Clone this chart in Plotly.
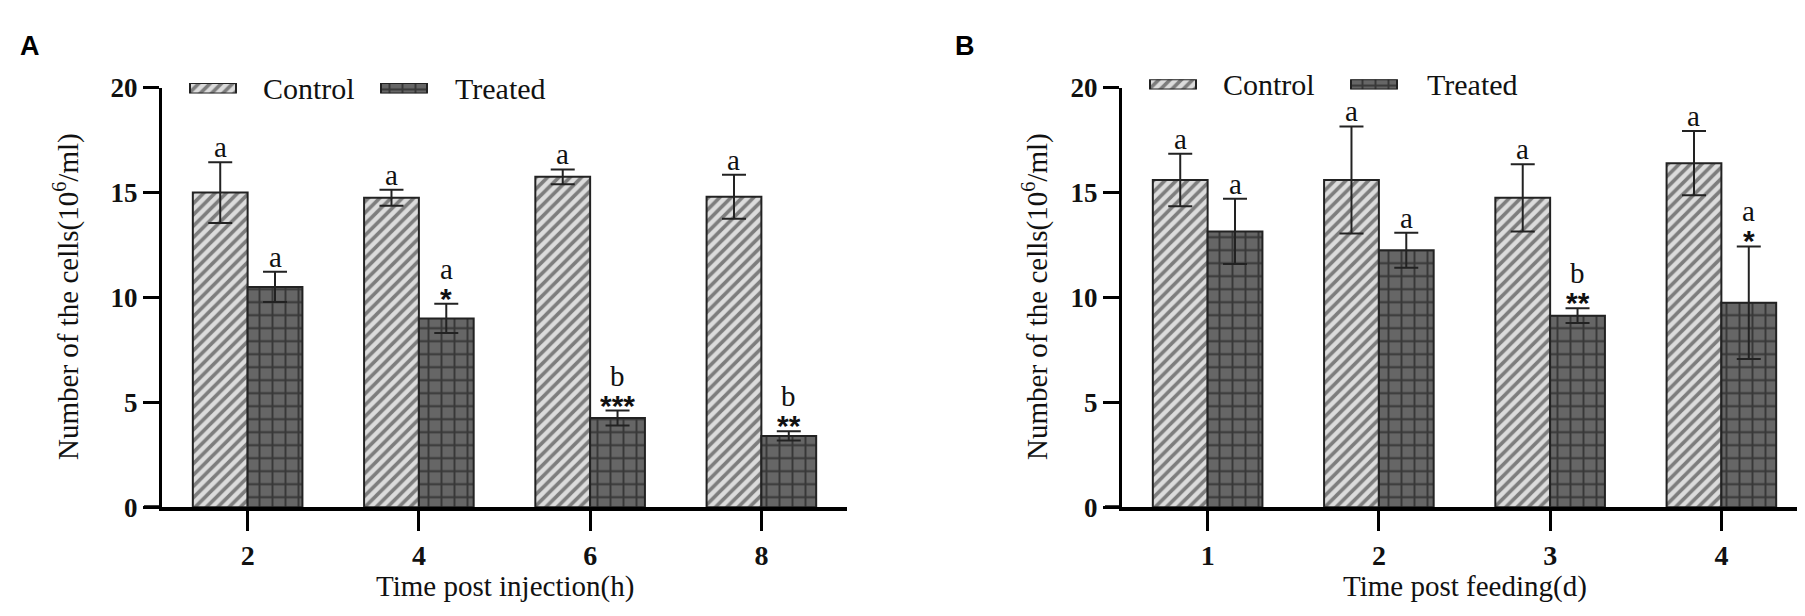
import plotly.graph_objects as go

# panel A: time post injection (h)
cats_a = ['2', '4', '6', '8']
ctrl_a = [15.0, 14.75, 15.75, 14.8]
ctrl_a_err = [1.45, 0.38, 0.35, 1.05]
trt_a = [10.5, 9.0, 4.25, 3.4]
trt_a_err = [0.72, 0.7, 0.36, 0.22]
ctrl_a_letters = ['a', 'a', 'a', 'a']
trt_a_letters = ['a', 'a', 'b', 'b']
trt_a_stars = ['', '*', '***', '**']

# panel B: time post feeding (d)
cats_b = ['1', '2', '3', '4']
ctrl_b = [15.6, 15.6, 14.75, 16.4]
ctrl_b_err = [1.25, 2.55, 1.6, 1.53]
trt_b = [13.15, 12.25, 9.13, 9.75]
trt_b_err = [1.55, 0.83, 0.35, 2.68]
ctrl_b_letters = ['a', 'a', 'a', 'a']
trt_b_letters = ['a', 'a', 'b', 'a']
trt_b_stars = ['', '', '**', '*']

W, H = 1805, 616
SERIF = 'Liberation Serif'
SANS = 'Liberation Sans'

ctrl_pattern = dict(shape='/', fgcolor='#1e1e1e', bgcolor='#dcdcdc', size=8, solidity=0.45)
trt_pattern = dict(shape='+', fgcolor='#0a0a0a', bgcolor='#666666', size=13, solidity=0.28)
bar_line = dict(color='#222222', width=2)
err_style = dict(type='data', color='#222222', thickness=2, width=12)


def px_x(p):
    return p / W


def px_y(p):
    return 1 - p / H


def add_panel(fig, n, cats, ctrl, ctrl_err, trt, trt_err, ctrl_letters, trt_letters, trt_stars):
    xa, ya = 'x%d' % n, 'y%d' % n
    pos = list(range(len(cats)))
    fig.add_trace(go.Bar(x=pos, y=ctrl, name='Control', xaxis=xa, yaxis=ya,
                         marker=dict(color='#dcdcdc', pattern=ctrl_pattern, line=bar_line),
                         error_y=dict(array=ctrl_err, **err_style), showlegend=False))
    fig.add_trace(go.Bar(x=pos, y=trt, name='Treated', xaxis=xa, yaxis=ya,
                         marker=dict(color='#666666', pattern=trt_pattern, line=bar_line),
                         error_y=dict(array=trt_err, **err_style), showlegend=False))
    off = 0.16
    letter_font = dict(family=SERIF, size=29, color='#111')
    for i in pos:
        fig.add_annotation(x=i - off, y=ctrl[i] + ctrl_err[i], xref=xa, yref=ya, text=ctrl_letters[i],
                           showarrow=False, yanchor='middle', yshift=15, height=30, font=letter_font)
        top = trt[i] + trt_err[i]
        if trt_stars[i]:
            fig.add_annotation(x=i + off, y=top, xref=xa, yref=ya, text='<b>' + trt_stars[i] + '</b>',
                               showarrow=False, yanchor='middle', yshift=6, height=24,
                               font=dict(family=SANS, size=30, color='#111'))
            fig.add_annotation(x=i + off, y=top, xref=xa, yref=ya, text=trt_letters[i],
                               showarrow=False, yanchor='middle', yshift=35, height=30, font=letter_font)
        else:
            fig.add_annotation(x=i + off, y=top, xref=xa, yref=ya, text=trt_letters[i],
                               showarrow=False, yanchor='middle', yshift=15, height=30, font=letter_font)


def add_legend(fig, n, x0, y_top, ctrl_patch, trt_patch, ctrl_text_x, trt_text_x):
    # small helper subplot to draw the patterned legend swatches
    xa, ya = 'x%d' % n, 'y%d' % n
    span = 260
    fig.add_trace(go.Bar(x=[ctrl_patch[0] - x0 + 23], y=[1], width=[46], xaxis=xa, yaxis=ya,
                         marker=dict(color='#dcdcdc', pattern=ctrl_pattern, line=bar_line),
                         showlegend=False, hoverinfo='skip'))
    fig.add_trace(go.Bar(x=[trt_patch[0] - x0 + 23], y=[1], width=[46], xaxis=xa, yaxis=ya,
                         marker=dict(color='#666666', pattern=trt_pattern, line=bar_line),
                         showlegend=False, hoverinfo='skip'))
    fig.layout['xaxis%d' % n] = dict(domain=[px_x(x0), px_x(x0 + span)], range=[0, span], visible=False,
                                     fixedrange=True, anchor=ya)
    fig.layout['yaxis%d' % n] = dict(domain=[px_y(y_top + 11), px_y(y_top)], range=[0, 1], visible=False,
                                     fixedrange=True, anchor=xa)
    yc = px_y(y_top + 5.5)
    for tx, label in [(ctrl_text_x, 'Control'), (trt_text_x, 'Treated')]:
        fig.add_annotation(x=px_x(tx), y=yc, xref='paper', yref='paper', text=label, showarrow=False,
                           xanchor='left', yanchor='middle', font=dict(family=SERIF, size=30, color='#111'))


fig = go.Figure()
add_panel(fig, 1, cats_a, ctrl_a, ctrl_a_err, trt_a, trt_a_err, ctrl_a_letters, trt_a_letters, trt_a_stars)
add_panel(fig, 2, cats_b, ctrl_b, ctrl_b_err, trt_b, trt_b_err, ctrl_b_letters, trt_b_letters, trt_b_stars)

plot_top, plot_bottom = 68, 509
panels = [(1, 154, 839, cats_a, 'Time post injection(h)', 136, 59, 22, 'A'),
          (2, 1114, 1799, cats_b, 'Time post feeding(d)', 1097, 1028, 957, 'B')]

for n, left, right, cats, xtitle, line_start, ytitle_x, label_x, panel_label in panels:
    fig.layout['xaxis%d' % n] = dict(
        domain=[px_x(left), px_x(right)], anchor='y%d' % n, range=[-0.5, len(cats) - 0.5],
        tickvals=list(range(len(cats))), ticktext=cats, showline=True, linewidth=4, linecolor='black',
        ticks='outside', ticklen=20, tickwidth=3, tickcolor='black', showgrid=False, zeroline=False,
        tickfont=dict(family=SERIF, size=28, color='#111', weight='bold'), fixedrange=True)
    fig.layout['yaxis%d' % n] = dict(
        domain=[px_y(plot_bottom), px_y(plot_top)], anchor='x%d' % n, range=[0, 20],
        tickvals=[0, 5, 10, 15, 20], showline=True, linewidth=3, linecolor='black',
        ticks='outside', ticklen=16, tickwidth=3, tickcolor='black', showgrid=False, zeroline=False,
        tickfont=dict(family=SERIF, size=27, color='#111', weight='bold'), fixedrange=True)
    # x axis line sticks out a bit left of the y axis
    fig.add_shape(type='line', xref='paper', yref='y%d' % n, x0=px_x(line_start), x1=px_x(left),
                  y0=0, y1=0, line=dict(color='black', width=4))
    fig.add_annotation(x=px_x((left + right) / 2), y=px_y(592), xref='paper', yref='paper', text=xtitle,
                       showarrow=False, xanchor='center', yanchor='middle',
                       font=dict(family=SERIF, size=29, color='#111'))
    fig.add_annotation(x=px_x(ytitle_x), y=px_y(288), xref='paper', yref='paper',
                       text='Number of the cells(10<sup>6</sup>/ml)', textangle=-90, showarrow=False,
                       xanchor='center', yanchor='middle', font=dict(family=SERIF, size=29, color='#111'))
    fig.add_annotation(x=px_x(label_x), y=px_y(24), xref='paper', yref='paper', text='<b>' + panel_label + '</b>',
                       showarrow=False, xanchor='center', yanchor='middle',
                       font=dict(family=SANS, size=27, color='black'))

add_legend(fig, 3, 180, 63, (182, 228), (373, 418), 253, 445)
add_legend(fig, 4, 1140, 59, (1142, 1187), (1343, 1390), 1213, 1417)

fig.update_layout(width=W, height=H, margin=dict(l=0, r=0, t=0, b=0), barmode='group', bargap=0.36,
                  bargroupgap=0, paper_bgcolor='white', plot_bgcolor='white', showlegend=False)

fig.write_html("out.html")
